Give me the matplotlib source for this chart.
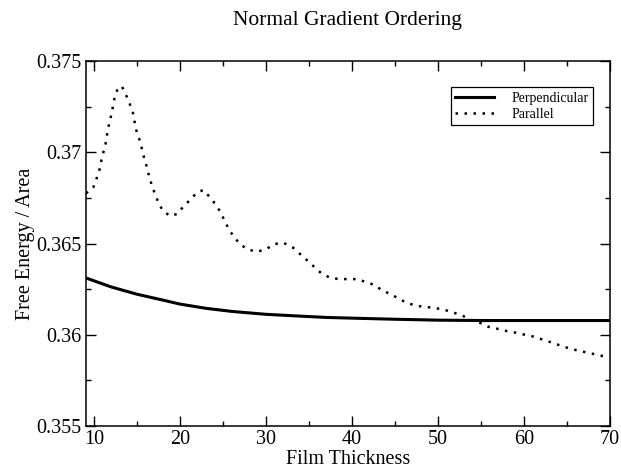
import matplotlib
matplotlib.use("Agg")
import matplotlib.pyplot as plt
from matplotlib.ticker import MultipleLocator

plt.rcParams['font.family'] = ['Liberation Serif', 'DejaVu Serif']

# film thickness / free energy per area
par_x = [9.07, 9.92, 10.31, 10.70, 10.90, 11.16, 11.40, 11.55, 11.78, 12.06,
         12.24, 12.44, 12.71, 13.22, 13.64, 14.10, 14.50, 14.88, 15.27, 15.55,
         15.81, 16.13, 16.40, 16.71, 17.09, 17.48, 17.99, 18.84, 19.69, 20.38,
         21.16, 21.94, 22.71, 23.49, 24.19, 24.73, 25.23, 25.73, 26.31, 26.98,
         27.83, 28.92, 30.00, 30.93, 32.01, 33.10, 33.87, 34.73, 35.58, 36.4,
         37.3, 38.4, 39.5, 40.6, 41.6, 42.6, 43.6, 44.5, 45.5, 46.4,
         47.6, 48.6, 49.6, 50.8, 51.9, 52.9, 53.9, 54.9, 55.9, 57.0,
         58.0, 59.2, 60.2, 61.3, 62.3, 63.4, 64.4, 65.5, 66.5, 67.6,
         68.6, 69.7]
par_y = [0.36775, 0.36808, 0.36857, 0.36915, 0.36967, 0.37012, 0.37058, 0.37107, 0.37162, 0.37213,
         0.37264, 0.37308, 0.37341, 0.37363, 0.37323, 0.37272, 0.37222, 0.37126, 0.37071, 0.37022,
         0.36972, 0.36921, 0.36870, 0.36821, 0.36771, 0.36726, 0.36680, 0.36651, 0.36662, 0.36702,
         0.36738, 0.36778, 0.36793, 0.36753, 0.36711, 0.36669, 0.36620, 0.36574, 0.36534, 0.36497,
         0.36468, 0.36455, 0.36468, 0.36497, 0.36504, 0.36479, 0.36446, 0.36410, 0.36373, 0.36338,
         0.36316, 0.36305, 0.36305, 0.36305, 0.36289, 0.36273, 0.36240, 0.36223, 0.36196, 0.36174,
         0.36158, 0.36152, 0.36147, 0.36136, 0.36120, 0.36103, 0.36080, 0.36065, 0.36043, 0.36032,
         0.36020, 0.36010, 0.35999, 0.35988, 0.35971, 0.35955, 0.35938, 0.35922, 0.35911, 0.35900,
         0.35889, 0.35878]

perp_x = [9.07, 12, 15, 18, 20, 23, 26, 30, 34, 37, 40, 45, 50, 55, 60, 65, 70]
perp_y = [0.36311, 0.36262, 0.36222, 0.36190, 0.36168, 0.36145, 0.36128, 0.36112, 0.36102,
          0.36095, 0.36091, 0.36085, 0.36080, 0.36078, 0.36078, 0.36078, 0.36078]

ytick_vals = [0.355, 0.36, 0.365, 0.37, 0.375]
ytick_labels = ['0.355', '0.36', '0.365', '0.37', '0.375']

fig = plt.figure(figsize=(6.21, 4.68), dpi=100)
ax = fig.add_axes([0.1385, 0.0897, 0.8438, 0.78])

ax.plot(perp_x, perp_y, color='black', lw=2.2, label='Perpendicular')
ax.plot(par_x, par_y, color='black', lw=1.8, linestyle=(0, (1, 2.6)),
        label='Parallel')

ax.set_xlim(9.07, 70)
ax.set_ylim(0.355, 0.375)
ax.xaxis.set_major_locator(MultipleLocator(10))
ax.xaxis.set_minor_locator(MultipleLocator(5))
ax.set_yticks(ytick_vals)
ax.set_yticklabels(ytick_labels)
ax.yaxis.set_minor_locator(MultipleLocator(0.0025))

ax.tick_params(which='both', direction='in', top=True, right=True,
               labelsize=14.5, width=1)
ax.tick_params(which='major', length=7)
ax.tick_params(which='minor', length=3.5)
ax.tick_params(axis='y', pad=3)
ax.tick_params(axis='x', pad=3)
for s in ax.spines.values():
    s.set_linewidth(1.1)

ax.set_xlabel('Film Thickness', fontsize=14.5, labelpad=0.5)
ax.set_ylabel('Free Energy / Area', fontsize=14.5, labelpad=1)
fig.text(0.56, 0.957, 'Normal Gradient Ordering', fontsize=15.5,
         ha='center', va='center')

leg = ax.legend(loc='upper right', bbox_to_anchor=(0.9676, 0.9288),
                borderaxespad=0, fontsize=10, fancybox=False,
                edgecolor='black', framealpha=1, handlelength=2.8,
                borderpad=0.35, labelspacing=0.2, handletextpad=1.2)
leg.get_frame().set_linewidth(0.9)

fig.savefig('out.png', dpi=100)
